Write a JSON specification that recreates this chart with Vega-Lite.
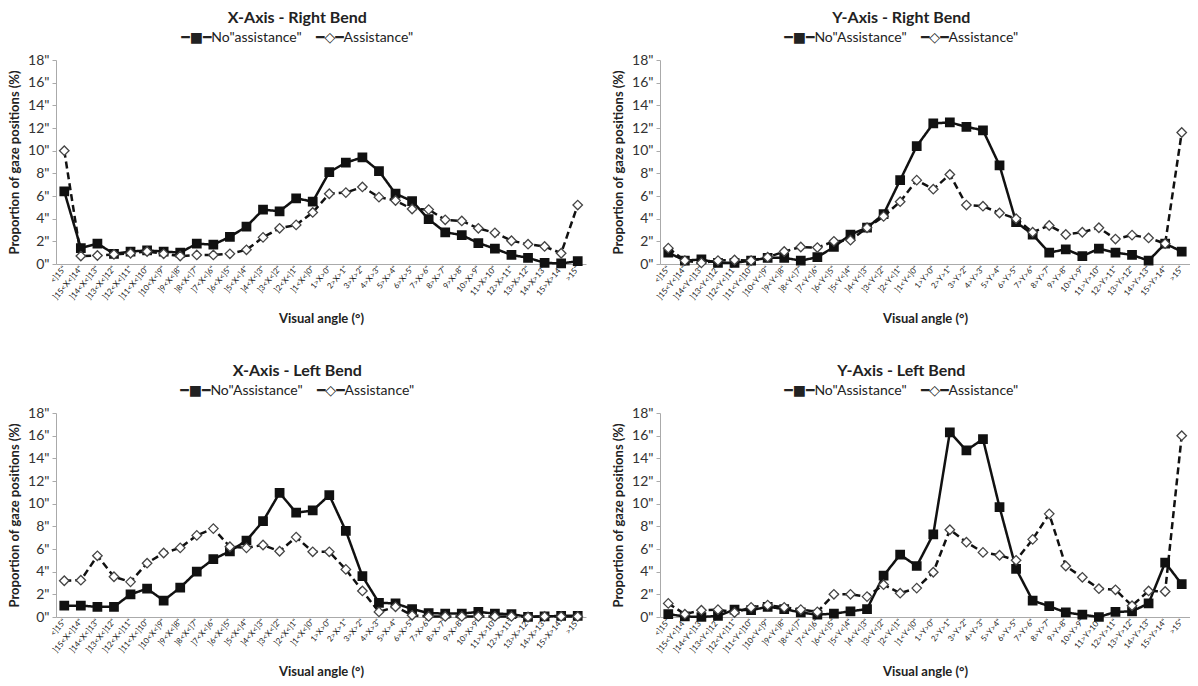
{
"$schema": "https://vega.github.io/schema/vega-lite/v6.json",
"padding": {"left": 8, "top": 10, "right": 0, "bottom": 0},
"background": "white",
"config": {"font": "Lato", "view": {"stroke": null}},
"data": {"values": [
{"p":"XR","c":"<]15\"","n":6.4,"a":10.0},
{"p":"XR","c":"]15<X<]14\"","n":1.4,"a":0.7},
{"p":"XR","c":"]14<X<]13\"","n":1.8,"a":0.75},
{"p":"XR","c":"]13<X<]12\"","n":0.9,"a":0.85},
{"p":"XR","c":"]12<X<]11\"","n":1.1,"a":0.95},
{"p":"XR","c":"]11<X<]10\"","n":1.2,"a":1.1},
{"p":"XR","c":"]10<X<]9\"","n":1.1,"a":0.9},
{"p":"XR","c":"]9<X<]8\"","n":1.0,"a":0.7},
{"p":"XR","c":"]8<X<]7\"","n":1.8,"a":0.8},
{"p":"XR","c":"]7<X<]6\"","n":1.7,"a":0.8},
{"p":"XR","c":"]6<X<]5\"","n":2.4,"a":0.9},
{"p":"XR","c":"]5<X<]4\"","n":3.3,"a":1.25},
{"p":"XR","c":"]4<X<]3\"","n":4.8,"a":2.35},
{"p":"XR","c":"]3<X<]2\"","n":4.65,"a":3.15},
{"p":"XR","c":"]2<X<]1\"","n":5.8,"a":3.45},
{"p":"XR","c":"]1<X<]0\"","n":5.5,"a":4.55},
{"p":"XR","c":"1>X>0\"","n":8.1,"a":6.2},
{"p":"XR","c":"2>X>1\"","n":8.95,"a":6.3},
{"p":"XR","c":"3>X>2\"","n":9.4,"a":6.8},
{"p":"XR","c":"4>X>3\"","n":8.2,"a":5.9},
{"p":"XR","c":"5>X>4\"","n":6.2,"a":5.6},
{"p":"XR","c":"6>X>5\"","n":5.55,"a":4.85},
{"p":"XR","c":"7>X>6\"","n":3.95,"a":4.8},
{"p":"XR","c":"8>X>7\"","n":2.8,"a":3.9},
{"p":"XR","c":"9>X>8\"","n":2.55,"a":3.8},
{"p":"XR","c":"10>X>9\"","n":1.85,"a":3.15},
{"p":"XR","c":"11>X>10\"","n":1.35,"a":2.75},
{"p":"XR","c":"12>X>11\"","n":0.8,"a":2.05},
{"p":"XR","c":"13>X>12\"","n":0.55,"a":1.75},
{"p":"XR","c":"14>X>13\"","n":0.1,"a":1.55},
{"p":"XR","c":"15>X>14\"","n":0.05,"a":0.95},
{"p":"XR","c":">15\"","n":0.25,"a":5.2},
{"p":"YR","c":"<]15\"","n":1.0,"a":1.4},
{"p":"YR","c":"]15<Y<]14\"","n":0.3,"a":0.3},
{"p":"YR","c":"]14<Y<]13\"","n":0.4,"a":0.1},
{"p":"YR","c":"]13<Y<]12\"","n":0.1,"a":0.3},
{"p":"YR","c":"]12<Y<]11\"","n":0.1,"a":0.35},
{"p":"YR","c":"]11<Y<]10\"","n":0.3,"a":0.3},
{"p":"YR","c":"]10<Y<]9\"","n":0.55,"a":0.6},
{"p":"YR","c":"]9<Y<]8\"","n":0.55,"a":1.1},
{"p":"YR","c":"]8<Y<]7\"","n":0.3,"a":1.5},
{"p":"YR","c":"]7<Y<]6\"","n":0.6,"a":1.45},
{"p":"YR","c":"]6<Y<]5\"","n":1.5,"a":2.0},
{"p":"YR","c":"]5<Y<]4\"","n":2.6,"a":2.1},
{"p":"YR","c":"]4<Y<]3\"","n":3.2,"a":3.2},
{"p":"YR","c":"]3<Y<]2\"","n":4.4,"a":4.2},
{"p":"YR","c":"]2<Y<]1\"","n":7.4,"a":5.5},
{"p":"YR","c":"]1<Y<]0\"","n":10.4,"a":7.4},
{"p":"YR","c":"1>Y>0\"","n":12.4,"a":6.6},
{"p":"YR","c":"2>Y>1\"","n":12.5,"a":7.9},
{"p":"YR","c":"3>Y>2\"","n":12.1,"a":5.2},
{"p":"YR","c":"4>Y>3\"","n":11.8,"a":5.1},
{"p":"YR","c":"5>Y>4\"","n":8.7,"a":4.5},
{"p":"YR","c":"6>Y>5\"","n":3.7,"a":4.0},
{"p":"YR","c":"7>Y>6\"","n":2.6,"a":2.8},
{"p":"YR","c":"8>Y>7\"","n":1.0,"a":3.4},
{"p":"YR","c":"9>Y>8\"","n":1.3,"a":2.6},
{"p":"YR","c":"10>Y>9\"","n":0.7,"a":2.8},
{"p":"YR","c":"11>Y>10\"","n":1.35,"a":3.2},
{"p":"YR","c":"12>Y>11\"","n":1.0,"a":2.2},
{"p":"YR","c":"13>Y>12\"","n":0.8,"a":2.55},
{"p":"YR","c":"14>Y>13\"","n":0.3,"a":2.3},
{"p":"YR","c":"15>Y>14\"","n":1.8,"a":1.8},
{"p":"YR","c":">15\"","n":1.1,"a":11.6},
{"p":"XL","c":"<]15\"","n":1.0,"a":3.2},
{"p":"XL","c":"]15<X<]14\"","n":1.0,"a":3.25},
{"p":"XL","c":"]14<X<]13\"","n":0.9,"a":5.4},
{"p":"XL","c":"]13<X<]12\"","n":0.9,"a":3.55},
{"p":"XL","c":"]12<X<]11\"","n":2.0,"a":3.1},
{"p":"XL","c":"]11<X<]10\"","n":2.5,"a":4.75},
{"p":"XL","c":"]10<X<]9\"","n":1.45,"a":5.65},
{"p":"XL","c":"]9<X<]8\"","n":2.6,"a":6.1},
{"p":"XL","c":"]8<X<]7\"","n":4.0,"a":7.2},
{"p":"XL","c":"]7<X<]6\"","n":5.1,"a":7.8},
{"p":"XL","c":"]6<X<]5\"","n":5.8,"a":6.2},
{"p":"XL","c":"]5<X<]4\"","n":6.75,"a":6.1},
{"p":"XL","c":"]4<X<]3\"","n":8.45,"a":6.35},
{"p":"XL","c":"]3<X<]2\"","n":10.95,"a":5.8},
{"p":"XL","c":"]2<X<]1\"","n":9.2,"a":7.05},
{"p":"XL","c":"]1<X<]0\"","n":9.4,"a":5.75},
{"p":"XL","c":"1>X>0\"","n":10.75,"a":5.75},
{"p":"XL","c":"2>X>1\"","n":7.6,"a":4.2},
{"p":"XL","c":"3>X>2\"","n":3.6,"a":2.3},
{"p":"XL","c":"4>X>3\"","n":1.25,"a":0.45},
{"p":"XL","c":"5>X>4\"","n":1.2,"a":0.9},
{"p":"XL","c":"6>X>5\"","n":0.7,"a":0.15},
{"p":"XL","c":"7>X>6\"","n":0.35,"a":0.05},
{"p":"XL","c":"8>X>7\"","n":0.3,"a":0.05},
{"p":"XL","c":"9>X>8\"","n":0.3,"a":0.05},
{"p":"XL","c":"10>X>9\"","n":0.45,"a":0.05},
{"p":"XL","c":"11>X>10\"","n":0.3,"a":0.05},
{"p":"XL","c":"12>X>11\"","n":0.25,"a":0.05},
{"p":"XL","c":"13>X>12\"","n":0.02,"a":0.0},
{"p":"XL","c":"14>X>13\"","n":0.05,"a":0.05},
{"p":"XL","c":"15>X>14\"","n":0.1,"a":0.05},
{"p":"XL","c":">15\"","n":0.1,"a":0.05},
{"p":"YL","c":"<]15\"","n":0.25,"a":1.2},
{"p":"YL","c":"]15<Y<]14\"","n":0.05,"a":0.25},
{"p":"YL","c":"]14<Y<]13\"","n":0.0,"a":0.6},
{"p":"YL","c":"]13<Y<]12\"","n":0.1,"a":0.65},
{"p":"YL","c":"]12<Y<]11\"","n":0.65,"a":0.4},
{"p":"YL","c":"]11<Y<]10\"","n":0.6,"a":0.85},
{"p":"YL","c":"]10<Y<]9\"","n":0.9,"a":1.05},
{"p":"YL","c":"]9<Y<]8\"","n":0.7,"a":0.85},
{"p":"YL","c":"]8<Y<]7\"","n":0.4,"a":0.65},
{"p":"YL","c":"]7<Y<]6\"","n":0.2,"a":0.45},
{"p":"YL","c":"]6<Y<]5\"","n":0.3,"a":2.0},
{"p":"YL","c":"]5<Y<]4\"","n":0.5,"a":2.0},
{"p":"YL","c":"]4<Y<]3\"","n":0.7,"a":1.8},
{"p":"YL","c":"]3<Y<]2\"","n":3.65,"a":2.85},
{"p":"YL","c":"]2<Y<]1\"","n":5.5,"a":2.1},
{"p":"YL","c":"]1<Y<]0\"","n":4.5,"a":2.55},
{"p":"YL","c":"1>Y>0\"","n":7.3,"a":3.95},
{"p":"YL","c":"2>Y>1\"","n":16.3,"a":7.7},
{"p":"YL","c":"3>Y>2\"","n":14.7,"a":6.6},
{"p":"YL","c":"4>Y>3\"","n":15.7,"a":5.7},
{"p":"YL","c":"5>Y>4\"","n":9.7,"a":5.45},
{"p":"YL","c":"6>Y>5\"","n":4.25,"a":5.0},
{"p":"YL","c":"7>Y>6\"","n":1.45,"a":6.85},
{"p":"YL","c":"8>Y>7\"","n":0.95,"a":9.1},
{"p":"YL","c":"9>Y>8\"","n":0.4,"a":4.5},
{"p":"YL","c":"10>Y>9\"","n":0.2,"a":3.5},
{"p":"YL","c":"11>Y>10\"","n":0.0,"a":2.5},
{"p":"YL","c":"12>Y>11\"","n":0.45,"a":2.4},
{"p":"YL","c":"13>Y>12\"","n":0.5,"a":1.0},
{"p":"YL","c":"14>Y>13\"","n":1.2,"a":2.3},
{"p":"YL","c":"15>Y>14\"","n":4.8,"a":2.25},
{"p":"YL","c":">15\"","n":2.9,"a":16.0}
]},
"transform": [{"fold": ["n", "a"], "as": ["k", "v"]}],
"spacing": 37,
"vconcat": [
{"hconcat": [
{"title": {"text": "X-Axis - Right Bend", "subtitle": "━■━No\"assistance\"\u00a0\u00a0\u00a0\u00a0━◇━Assistance\"", "fontSize": 16, "fontWeight": "bold", "color": "#222", "subtitleFont": "Lato, DejaVu Sans", "subtitleFontSize": 14, "subtitleColor": "#222", "subtitlePadding": 5, "offset": 8, "frame": "bounds"},
 "width": 530, "height": 204,
 "transform": [{"filter": "datum.p == 'XR'"}],
 "encoding": {
  "x": {"field": "c", "type": "nominal", "title": "Visual angle (°)",
   "scale": {"domain": ["<]15\"","]15<X<]14\"","]14<X<]13\"","]13<X<]12\"","]12<X<]11\"","]11<X<]10\"","]10<X<]9\"","]9<X<]8\"","]8<X<]7\"","]7<X<]6\"","]6<X<]5\"","]5<X<]4\"","]4<X<]3\"","]3<X<]2\"","]2<X<]1\"","]1<X<]0\"","1>X>0\"","2>X>1\"","3>X>2\"","4>X>3\"","5>X>4\"","6>X>5\"","7>X>6\"","8>X>7\"","9>X>8\"","10>X>9\"","11>X>10\"","12>X>11\"","13>X>12\"","14>X>13\"","15>X>14\"",">15\""]},
   "axis": {"labelAngle": -50, "labelFontSize": 8, "labelColor": "#222", "ticks": false, "domainColor": "#aaa", "labelPadding": 3, "titleFontSize": 13, "titleFontWeight": "bold", "titleColor": "#222", "titlePadding": 12}},
  "y": {"field": "v", "type": "quantitative", "title": "Proportion of gaze positions (%)",
   "scale": {"domain": [0, 18]},
   "axis": {"values": [0,2,4,6,8,10,12,14,16,18], "labelExpr": "datum.value + '\"'", "grid": false, "domainColor": "#aaa", "tickColor": "#aaa", "tickSize": 4, "labelFontSize": 14, "labelColor": "#333", "labelPadding": 3, "titleFontSize": 13, "titleFontWeight": "bold", "titleColor": "#222", "titlePadding": 6}}
 },
 "layer": [
  {"mark": {"type": "line", "color": "#111", "strokeWidth": 2.5}, "encoding": {"detail": {"field": "k"}, "strokeDash": {"field": "k", "type": "nominal", "scale": {"domain": ["n", "a"], "range": [[1, 0], [7, 4]]}, "legend": null}}},
  {"transform": [{"filter": "datum.k == 'n'"}], "mark": {"type": "point", "shape": "square", "filled": true, "fill": "#111", "stroke": "#111", "size": 60, "opacity": 1}},
  {"transform": [{"filter": "datum.k == 'a'"}], "mark": {"type": "point", "shape": "diamond", "filled": true, "fill": "white", "stroke": "#444", "strokeWidth": 1.3, "size": 90, "opacity": 1}}
 ]},
{"title": {"text": "Y-Axis - Right Bend", "subtitle": "━■━No\"Assistance\"\u00a0\u00a0\u00a0\u00a0━◇━Assistance\"", "fontSize": 16, "fontWeight": "bold", "color": "#222", "subtitleFont": "Lato, DejaVu Sans", "subtitleFontSize": 14, "subtitleColor": "#222", "subtitlePadding": 5, "offset": 8, "frame": "bounds"},
 "width": 530, "height": 204,
 "transform": [{"filter": "datum.p == 'YR'"}],
 "encoding": {
  "x": {"field": "c", "type": "nominal", "title": "Visual angle (°)",
   "scale": {"domain": ["<]15\"","]15<Y<]14\"","]14<Y<]13\"","]13<Y<]12\"","]12<Y<]11\"","]11<Y<]10\"","]10<Y<]9\"","]9<Y<]8\"","]8<Y<]7\"","]7<Y<]6\"","]6<Y<]5\"","]5<Y<]4\"","]4<Y<]3\"","]3<Y<]2\"","]2<Y<]1\"","]1<Y<]0\"","1>Y>0\"","2>Y>1\"","3>Y>2\"","4>Y>3\"","5>Y>4\"","6>Y>5\"","7>Y>6\"","8>Y>7\"","9>Y>8\"","10>Y>9\"","11>Y>10\"","12>Y>11\"","13>Y>12\"","14>Y>13\"","15>Y>14\"",">15\""]},
   "axis": {"labelAngle": -50, "labelFontSize": 8, "labelColor": "#222", "ticks": false, "domainColor": "#aaa", "labelPadding": 3, "titleFontSize": 13, "titleFontWeight": "bold", "titleColor": "#222", "titlePadding": 12}},
  "y": {"field": "v", "type": "quantitative", "title": "Proportion of gaze positions (%)",
   "scale": {"domain": [0, 18]},
   "axis": {"values": [0,2,4,6,8,10,12,14,16,18], "labelExpr": "datum.value + '\"'", "grid": false, "domainColor": "#aaa", "tickColor": "#aaa", "tickSize": 4, "labelFontSize": 14, "labelColor": "#333", "labelPadding": 3, "titleFontSize": 13, "titleFontWeight": "bold", "titleColor": "#222", "titlePadding": 6}}
 },
 "layer": [
  {"mark": {"type": "line", "color": "#111", "strokeWidth": 2.5}, "encoding": {"detail": {"field": "k"}, "strokeDash": {"field": "k", "type": "nominal", "scale": {"domain": ["n", "a"], "range": [[1, 0], [7, 4]]}, "legend": null}}},
  {"transform": [{"filter": "datum.k == 'n'"}], "mark": {"type": "point", "shape": "square", "filled": true, "fill": "#111", "stroke": "#111", "size": 60, "opacity": 1}},
  {"transform": [{"filter": "datum.k == 'a'"}], "mark": {"type": "point", "shape": "diamond", "filled": true, "fill": "white", "stroke": "#444", "strokeWidth": 1.3, "size": 90, "opacity": 1}}
 ]}
], "spacing": 26},
{"hconcat": [
{"title": {"text": "X-Axis - Left Bend", "subtitle": "━■━No\"Assistance\"\u00a0\u00a0\u00a0\u00a0━◇━Assistance\"", "fontSize": 16, "fontWeight": "bold", "color": "#222", "subtitleFont": "Lato, DejaVu Sans", "subtitleFontSize": 14, "subtitleColor": "#222", "subtitlePadding": 5, "offset": 8, "frame": "bounds"},
 "width": 530, "height": 204,
 "transform": [{"filter": "datum.p == 'XL'"}],
 "encoding": {
  "x": {"field": "c", "type": "nominal", "title": "Visual angle (°)",
   "scale": {"domain": ["<]15\"","]15<X<]14\"","]14<X<]13\"","]13<X<]12\"","]12<X<]11\"","]11<X<]10\"","]10<X<]9\"","]9<X<]8\"","]8<X<]7\"","]7<X<]6\"","]6<X<]5\"","]5<X<]4\"","]4<X<]3\"","]3<X<]2\"","]2<X<]1\"","]1<X<]0\"","1>X>0\"","2>X>1\"","3>X>2\"","4>X>3\"","5>X>4\"","6>X>5\"","7>X>6\"","8>X>7\"","9>X>8\"","10>X>9\"","11>X>10\"","12>X>11\"","13>X>12\"","14>X>13\"","15>X>14\"",">15\""]},
   "axis": {"labelAngle": -50, "labelFontSize": 8, "labelColor": "#222", "ticks": false, "domainColor": "#aaa", "labelPadding": 3, "titleFontSize": 13, "titleFontWeight": "bold", "titleColor": "#222", "titlePadding": 12}},
  "y": {"field": "v", "type": "quantitative", "title": "Proportion of gaze positions (%)",
   "scale": {"domain": [0, 18]},
   "axis": {"values": [0,2,4,6,8,10,12,14,16,18], "labelExpr": "datum.value + '\"'", "grid": false, "domainColor": "#aaa", "tickColor": "#aaa", "tickSize": 4, "labelFontSize": 14, "labelColor": "#333", "labelPadding": 3, "titleFontSize": 13, "titleFontWeight": "bold", "titleColor": "#222", "titlePadding": 6}}
 },
 "layer": [
  {"mark": {"type": "line", "color": "#111", "strokeWidth": 2.5}, "encoding": {"detail": {"field": "k"}, "strokeDash": {"field": "k", "type": "nominal", "scale": {"domain": ["n", "a"], "range": [[1, 0], [7, 4]]}, "legend": null}}},
  {"transform": [{"filter": "datum.k == 'n'"}], "mark": {"type": "point", "shape": "square", "filled": true, "fill": "#111", "stroke": "#111", "size": 60, "opacity": 1}},
  {"transform": [{"filter": "datum.k == 'a'"}], "mark": {"type": "point", "shape": "diamond", "filled": true, "fill": "white", "stroke": "#444", "strokeWidth": 1.3, "size": 90, "opacity": 1}}
 ]},
{"title": {"text": "Y-Axis - Left Bend", "subtitle": "━■━No\"Assistance\"\u00a0\u00a0\u00a0\u00a0━◇━Assistance\"", "fontSize": 16, "fontWeight": "bold", "color": "#222", "subtitleFont": "Lato, DejaVu Sans", "subtitleFontSize": 14, "subtitleColor": "#222", "subtitlePadding": 5, "offset": 8, "frame": "bounds"},
 "width": 530, "height": 204,
 "transform": [{"filter": "datum.p == 'YL'"}],
 "encoding": {
  "x": {"field": "c", "type": "nominal", "title": "Visual angle (°)",
   "scale": {"domain": ["<]15\"","]15<Y<]14\"","]14<Y<]13\"","]13<Y<]12\"","]12<Y<]11\"","]11<Y<]10\"","]10<Y<]9\"","]9<Y<]8\"","]8<Y<]7\"","]7<Y<]6\"","]6<Y<]5\"","]5<Y<]4\"","]4<Y<]3\"","]3<Y<]2\"","]2<Y<]1\"","]1<Y<]0\"","1>Y>0\"","2>Y>1\"","3>Y>2\"","4>Y>3\"","5>Y>4\"","6>Y>5\"","7>Y>6\"","8>Y>7\"","9>Y>8\"","10>Y>9\"","11>Y>10\"","12>Y>11\"","13>Y>12\"","14>Y>13\"","15>Y>14\"",">15\""]},
   "axis": {"labelAngle": -50, "labelFontSize": 8, "labelColor": "#222", "ticks": false, "domainColor": "#aaa", "labelPadding": 3, "titleFontSize": 13, "titleFontWeight": "bold", "titleColor": "#222", "titlePadding": 12}},
  "y": {"field": "v", "type": "quantitative", "title": "Proportion of gaze positions (%)",
   "scale": {"domain": [0, 18]},
   "axis": {"values": [0,2,4,6,8,10,12,14,16,18], "labelExpr": "datum.value + '\"'", "grid": false, "domainColor": "#aaa", "tickColor": "#aaa", "tickSize": 4, "labelFontSize": 14, "labelColor": "#333", "labelPadding": 3, "titleFontSize": 13, "titleFontWeight": "bold", "titleColor": "#222", "titlePadding": 6}}
 },
 "layer": [
  {"mark": {"type": "line", "color": "#111", "strokeWidth": 2.5}, "encoding": {"detail": {"field": "k"}, "strokeDash": {"field": "k", "type": "nominal", "scale": {"domain": ["n", "a"], "range": [[1, 0], [7, 4]]}, "legend": null}}},
  {"transform": [{"filter": "datum.k == 'n'"}], "mark": {"type": "point", "shape": "square", "filled": true, "fill": "#111", "stroke": "#111", "size": 60, "opacity": 1}},
  {"transform": [{"filter": "datum.k == 'a'"}], "mark": {"type": "point", "shape": "diamond", "filled": true, "fill": "white", "stroke": "#444", "strokeWidth": 1.3, "size": 90, "opacity": 1}}
 ]}
], "spacing": 26}
]
}
